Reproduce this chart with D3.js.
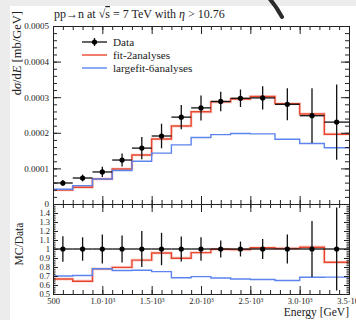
<!DOCTYPE html>
<html>
<head>
<meta charset="utf-8">
<script src="https://cdn.jsdelivr.net/npm/d3@7"></script>
<style>
  body { margin: 0; background: #fff; }
  svg { display: block; font-family: "Liberation Serif", "DejaVu Serif", serif; }
  .axis path, .axis line { stroke: #222; stroke-width: 1px; }
  .axis text { fill: #222; font-size: 8.5px; font-family: "Liberation Serif", serif; }
  .axis.main text { font-size: 9px; }
</style>
</head>
<body>
<div id="chart"></div>
<script>
// bin edges in GeV
var edges = [500, 700, 900, 1100, 1300, 1500, 1700, 1900, 2100, 2300, 2500, 2750, 3000, 3250, 3500];

// values in units of 1e-4 mb/GeV
var dataVals = [0.59, 0.73, 0.90, 1.235, 1.57, 1.91, 2.44, 2.70, 2.88, 2.97, 2.98, 2.80, 2.48, 2.30];
var dataErrs = [0.083, 0.095, 0.144, 0.185, 0.314, 0.344, 0.342, 0.351, 0.274, 0.246, 0.328, 0.448, 0.769, 1.058];
var fit2 = [0.393, 0.469, 0.702, 0.983, 1.376, 1.826, 2.19, 2.59, 2.87, 2.95, 3.02, 2.82, 2.53, 1.96];
var fit6 = [0.413, 0.515, 0.702, 0.94, 1.20, 1.43, 1.66, 1.87, 1.95, 1.98, 1.97, 1.82, 1.70, 1.58];

var yMainTicks = [0, 1e-4, 2e-4, 3e-4, 4e-4, 5e-4];
var xMajorTicks = [500, 1000, 1500, 2000, 2500, 3000, 3500];
var ratioTicks = [0.5, 0.6, 0.7, 0.8, 0.9, 1.0, 1.1, 1.2, 1.3, 1.4];

var width = 356, height = 320;
var plotLeft = 53, plotRight = 349, plotTop = 26, plotMid = 204, plotBottom = 294;
var red = "#e8452c", blue = "#5b84ee";

var svg = d3.select("#chart").append("svg")
    .attr("width", width)
    .attr("height", height);

// page background frame
svg.append("rect").attr("width", width).attr("height", height).attr("fill", "#ececec");
svg.append("rect").attr("x", 10).attr("y", 6).attr("width", width - 10).attr("height", height - 6).attr("fill", "#fff");

var x = d3.scaleLinear().domain([500, 3500]).range([plotLeft, plotRight]);
var y = d3.scaleLinear().domain([0, 5e-4]).range([plotMid, plotTop]);
var yr = d3.scaleLinear().domain([0.5, 1.5]).range([plotBottom, plotMid]);

var xMinor = d3.range(500, 3501, 100);
var yMinor = d3.range(0, 5.01e-4, 2e-5);
var rMinor = d3.range(0.5, 1.501, 0.02);

function scaled(arr) { return arr.map(function(v) { return v * 1e-4; }); }
var dv = scaled(dataVals), de = scaled(dataErrs), r2 = scaled(fit2), r6 = scaled(fit6);

function stepPoints(vals, yscale) {
    var pts = vals.map(function(v, i) { return [x(edges[i]), yscale(v)]; });
    pts.push([x(edges[edges.length - 1]), yscale(vals[vals.length - 1])]);
    return pts;
}
var step = d3.line().curve(d3.curveStepAfter);

function axisGroup(axis, tx, ty, cls) {
    var g = svg.append("g").attr("class", "axis " + (cls || ""))
        .attr("transform", "translate(" + tx + "," + ty + ")")
        .call(axis);
    return g;
}

function drawMC(vals, yscale) {
    svg.append("path").attr("d", step(stepPoints(vals, yscale)))
        .attr("fill", "none").attr("stroke", red).attr("stroke-opacity", 0.18).attr("stroke-width", 3.2);
    svg.append("path").attr("d", step(stepPoints(vals, yscale)))
        .attr("fill", "none").attr("stroke", red).attr("stroke-width", 1.4);
}

function drawData(vals, errs, yscale) {
    var g = svg.append("g");
    vals.forEach(function(v, i) {
        var cx = x((edges[i] + edges[i + 1]) / 2);
        g.append("line")
            .attr("x1", x(edges[i])).attr("x2", x(edges[i + 1]))
            .attr("y1", yscale(v)).attr("y2", yscale(v))
            .attr("stroke", "#111").attr("stroke-width", 1.3);
        g.append("line")
            .attr("x1", cx).attr("x2", cx)
            .attr("y1", yscale(v - errs[i])).attr("y2", yscale(v + errs[i]))
            .attr("stroke", "#111").attr("stroke-width", 1.3);
        g.append("circle").attr("cx", cx).attr("cy", yscale(v)).attr("r", 2.6).attr("fill", "#000");
    });
}

// ---- main panel ----
drawMC(r2, y);
svg.append("path").attr("d", step(stepPoints(r6, y)))
    .attr("fill", "none").attr("stroke", blue).attr("stroke-width", 1.4);
drawData(dv, de, y);

// ---- ratio panel ----
var rat2 = r2.map(function(v, i) { return v / dv[i]; });
var rat6 = r6.map(function(v, i) { return v / dv[i]; });
drawMC(rat2, yr);
svg.append("path").attr("d", step(stepPoints(rat6, yr)))
    .attr("fill", "none").attr("stroke", blue).attr("stroke-width", 1.4);
drawData(dv.map(function() { return 1; }), de.map(function(e, i) { return e / dv[i]; }), yr);

// ---- axes ----
// main left
axisGroup(d3.axisLeft(y).tickValues(yMainTicks).tickSize(-8).tickPadding(4)
    .tickFormat(function(d) { return d === 0 ? "0" : d.toFixed(4); }), plotLeft, 0, "main");
axisGroup(d3.axisLeft(y).tickValues(yMinor).tickSize(-4).tickFormat(""), plotLeft, 0);
// main right
axisGroup(d3.axisRight(y).tickValues(yMainTicks).tickSize(-8).tickFormat(""), plotRight, 0);
axisGroup(d3.axisRight(y).tickValues(yMinor).tickSize(-4).tickFormat(""), plotRight, 0);
// main top / bottom
axisGroup(d3.axisTop(x).tickValues(xMajorTicks).tickSize(-8).tickFormat(""), 0, plotTop);
axisGroup(d3.axisTop(x).tickValues(xMinor).tickSize(-4).tickFormat(""), 0, plotTop);
axisGroup(d3.axisBottom(x).tickValues(xMajorTicks).tickSize(-8).tickFormat(""), 0, plotMid);
axisGroup(d3.axisBottom(x).tickValues(xMinor).tickSize(-4).tickFormat(""), 0, plotMid);

// ratio left / right
axisGroup(d3.axisLeft(yr).tickValues(ratioTicks).tickSize(-5).tickPadding(3)
    .tickFormat(function(d) { return d === 1 ? "1" : d3.format(".1f")(d); }), plotLeft, 0);
axisGroup(d3.axisLeft(yr).tickValues(rMinor).tickSize(-2.5).tickFormat(""), plotLeft, 0);
axisGroup(d3.axisRight(yr).tickValues(ratioTicks).tickSize(-5).tickFormat(""), plotRight, 0);
axisGroup(d3.axisRight(yr).tickValues(rMinor).tickSize(-2.5).tickFormat(""), plotRight, 0);
// ratio top / bottom
axisGroup(d3.axisTop(x).tickValues(xMajorTicks).tickSize(-8).tickFormat(""), 0, plotMid);
axisGroup(d3.axisTop(x).tickValues(xMinor).tickSize(-4).tickFormat(""), 0, plotMid);
var xb = axisGroup(d3.axisBottom(x).tickValues(xMajorTicks).tickSize(-8).tickPadding(4)
    .tickFormat(function(d) { return d < 1000 ? String(d) : (d / 1000).toFixed(1) + "·10"; }), 0, plotBottom);
xb.selectAll(".tick text").filter(function(d) { return d >= 1000; })
    .append("tspan").attr("dy", "-0.45em").attr("font-size", "5.5px").text("3");
axisGroup(d3.axisBottom(x).tickValues(xMinor).tickSize(-4).tickFormat(""), 0, plotBottom);

// ---- labels ----
var title = svg.append("text").attr("x", plotLeft + 1).attr("y", 18)
    .attr("font-size", "12px").attr("fill", "#222");
title.append("tspan").text("pp→n at √");
title.append("tspan").style("text-decoration", "overline").text("s");
title.append("tspan").text(" = 7 TeV with ");
title.append("tspan").attr("font-style", "italic").text("η");
title.append("tspan").text(" > 10.76");

var ylab = svg.append("text")
    .attr("transform", "translate(21,11) rotate(-90)")
    .attr("text-anchor", "end").attr("font-size", "12.5px").attr("fill", "#222");
ylab.append("tspan").text("d");
ylab.append("tspan").attr("font-style", "italic").text("σ");
ylab.append("tspan").text("/d");
ylab.append("tspan").attr("font-style", "italic").text("E");
ylab.append("tspan").text(" [mb/GeV]");

svg.append("text")
    .attr("transform", "translate(23,244) rotate(-90)")
    .attr("text-anchor", "middle").attr("font-size", "11.5px").attr("fill", "#222")
    .text("MC/Data");

svg.append("text").attr("x", plotRight).attr("y", 316)
    .attr("text-anchor", "end").attr("font-size", "11.5px").attr("fill", "#222")
    .text("Energy [GeV]");

// ---- legend ----
var legend = [
    {name: "Data", color: "#111", type: "data"},
    {name: "fit-2analyses", color: red, type: "line"},
    {name: "largefit-6analyses", color: blue, type: "line"}
];
legend.forEach(function(l, i) {
    var ly = 42 + i * 13;
    svg.append("line").attr("x1", 82).attr("x2", 107).attr("y1", ly).attr("y2", ly)
        .attr("stroke", l.color).attr("stroke-width", l.type === "data" ? 1.3 : 1.4);
    if (l.type === "data") {
        svg.append("line").attr("x1", 94.5).attr("x2", 94.5).attr("y1", ly - 4).attr("y2", ly + 4)
            .attr("stroke", l.color).attr("stroke-width", 1.3);
        svg.append("circle").attr("cx", 94.5).attr("cy", ly).attr("r", 2.6).attr("fill", "#000");
    }
    svg.append("text").attr("x", 113).attr("y", ly + 4)
        .attr("font-size", "11.2px").attr("fill", "#222").text(l.name);
});

// dark stroke overlay at top
svg.append("path").attr("d", "M269,-2 Q276,6 282,17")
    .attr("fill", "none").attr("stroke", "#2b2b2b").attr("stroke-width", 4).attr("stroke-linecap", "round");
</script>
</body>
</html>
